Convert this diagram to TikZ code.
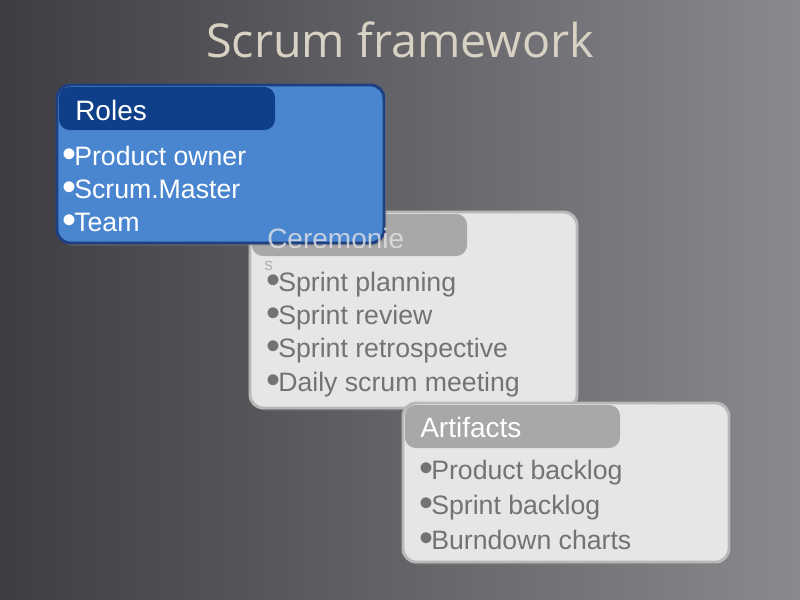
\documentclass[tikz,border=0pt]{standalone}
\usepackage{fontspec}
\setmainfont{Liberation Sans}
\newfontfamily\titlefont{Open Sans}
\usetikzlibrary{shadows}
\definecolor{bgl}{HTML}{8A8A8E}
\definecolor{bgd}{HTML}{3E3E42}
\definecolor{rolesbody}{HTML}{4A86D0}
\definecolor{roleshead}{HTML}{0F3F88}
\definecolor{rolesedge}{HTML}{1E3F80}
\definecolor{grbody}{HTML}{E6E6E6}
\definecolor{grhead}{HTML}{A8A8A8}
\definecolor{gredge}{HTML}{B8B8B8}
\newcommand{\bl}{{\fontsize{30}{20}\selectfont\raisebox{-1.5pt}{•}}\kern-1.5pt}
\tikzset{
  panel/.style={rounded corners=10pt, line width=2.2pt, drop shadow={opacity=0.5,shadow xshift=2pt,shadow yshift=-2pt}},
  bul/.style={anchor=west, font=\fontsize{20}{22}\selectfont, inner sep=0pt},
  head/.style={anchor=west, font=\fontsize{21}{22}\selectfont, inner sep=0pt}
}
\begin{document}
\begin{tikzpicture}[x=0.75pt,y=-0.75pt]
\shade[left color=bgd, right color=bgl] (0,0) rectangle (800,600);
\useasboundingbox (0,0) rectangle (800,600);
\node (title) at (400,40) {\titlefont\fontsize{35}{36}\selectfont\color[HTML]{D8D2C4}Scrum framework};
% Ceremonies
\draw[panel, draw=gredge, fill=grbody] (250,212) rectangle (577,408);
\fill[grhead, rounded corners=8pt] (252,214) -- (467,214) -- (467,256) -- (252,256) -- cycle;
\node[bul, text=gray!90!black] (c1) at (266,285) {\bl Sprint planning};
\node[bul, text=gray!90!black] (c2) at (266,318) {\bl Sprint review};
\node[bul, text=gray!90!black] (c3) at (266,351) {\bl Sprint retrospective};
\node[bul, text=gray!90!black] (c4) at (266,385) {\bl Daily scrum meeting};
% Roles
\draw[panel, draw=rolesedge, fill=rolesbody] (57,85) rectangle (384,243);
\fill[roleshead, rounded corners=8pt] (59,87) -- (275,87) -- (275,130) -- (59,130) -- cycle;
\node[head, text=white] (rh) at (75,110) {Roles};
\node[bul, text=white] (r1) at (62,157) {\bl Product owner};
\node[bul, text=white] (r2) at (62,190) {\bl Scrum.Master};
\node[bul, text=white] (r3) at (62,223) {\bl Team};
\node[head, text=white!78!gray, opacity=0.8] (ch) at (267,238) {Ceremonie};
\node[head, text=gray!60] (ch2) at (264,266) {\fontsize{13}{13}\selectfont s};
% Artifacts
\draw[panel, draw=gredge, fill=grbody] (403,403) rectangle (729,562);
\fill[grhead, rounded corners=8pt] (405,405) -- (620,405) -- (620,448) -- (405,448) -- cycle;
\node[head, text=white] (ah) at (420,427) {Artifacts};
\node[bul, text=gray!90!black] (a1) at (419,473) {\bl Product backlog};
\node[bul, text=gray!90!black] (a2) at (419,508) {\bl Sprint backlog};
\node[bul, text=gray!90!black] (a3) at (419,541) {\bl Burndown charts};
\end{tikzpicture}
\end{document}
